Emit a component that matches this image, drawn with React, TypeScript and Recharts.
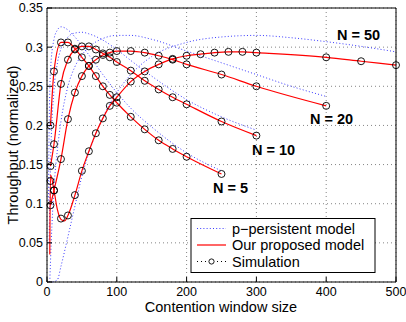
import React from 'react';
import { ComposedChart, Line, Scatter, XAxis, YAxis, CartesianGrid, Label } from 'recharts';

const FONT = '"Liberation Sans", Arial, Helvetica, sans-serif';

const xTicks = [0, 100, 200, 300, 400, 500];
const yTicks = [0, 0.05, 0.1, 0.15, 0.2, 0.25, 0.3, 0.35];

// Simulation points
const simX5 = [5, 10, 20, 30, 40, 50, 60, 70, 80, 90, 100, 120, 140, 160, 180, 200, 250];
const simY5 = [0.2, 0.269, 0.306, 0.306, 0.298, 0.287, 0.276, 0.263, 0.25, 0.239, 0.229, 0.211, 0.195, 0.181, 0.17, 0.16, 0.138];
const simX10 = [5, 10, 20, 30, 40, 50, 60, 70, 80, 90, 100, 120, 140, 160, 180, 200, 250, 300];
const simY10 = [0.148, 0.176, 0.253, 0.284, 0.297, 0.301, 0.301, 0.297, 0.292, 0.287, 0.281, 0.27, 0.257, 0.246, 0.236, 0.227, 0.205, 0.187];
const simX20 = [5, 10, 20, 30, 40, 50, 60, 70, 80, 90, 100, 120, 140, 160, 180, 200, 250, 300, 400];
const simY20 = [0.098, 0.117, 0.157, 0.208, 0.242, 0.263, 0.276, 0.284, 0.29, 0.293, 0.295, 0.295, 0.293, 0.289, 0.284, 0.278, 0.265, 0.25, 0.225];
const simX50 = [5, 10, 20, 30, 40, 50, 60, 70, 80, 90, 100, 120, 140, 160, 180, 200, 220, 240, 260, 280, 300, 400, 450, 500];
const simY50 = [0.129, 0.117, 0.081, 0.085, 0.111, 0.142, 0.167, 0.19, 0.209, 0.225, 0.236, 0.256, 0.269, 0.278, 0.285, 0.289, 0.291, 0.293, 0.294, 0.294, 0.293, 0.287, 0.282, 0.277];

// Proposed model (red)
const modX5 = [5, 10, 20, 30, 40, 50, 60, 70, 80, 90, 100, 120, 140, 160, 180, 200, 250];
const modY5 = [0.2, 0.269, 0.306, 0.306, 0.298, 0.287, 0.276, 0.263, 0.25, 0.239, 0.229, 0.211, 0.195, 0.181, 0.17, 0.16, 0.138];
const modX10 = [5, 10, 20, 30, 40, 50, 60, 70, 80, 90, 100, 120, 140, 160, 180, 200, 250, 300];
const modY10 = [0.148, 0.176, 0.253, 0.284, 0.297, 0.301, 0.301, 0.297, 0.292, 0.287, 0.281, 0.27, 0.257, 0.246, 0.236, 0.227, 0.205, 0.187];
const modX20 = [5, 10, 20, 30, 40, 50, 60, 70, 80, 90, 100, 120, 140, 160, 180, 200, 250, 300, 400];
const modY20 = [0.098, 0.117, 0.157, 0.208, 0.242, 0.263, 0.276, 0.284, 0.29, 0.293, 0.295, 0.295, 0.293, 0.289, 0.284, 0.278, 0.265, 0.25, 0.225];
const modX50 = [4, 5, 10, 15, 20, 25, 30, 40, 50, 60, 70, 80, 90, 100, 120, 140, 160, 180, 200, 220, 240, 260, 280, 300, 400, 450, 500];
const modY50 = [0.035, 0.137, 0.117, 0.092, 0.08, 0.078, 0.085, 0.111, 0.142, 0.167, 0.19, 0.209, 0.225, 0.236, 0.256, 0.269, 0.278, 0.285, 0.289, 0.291, 0.293, 0.294, 0.294, 0.293, 0.287, 0.282, 0.277];

// p-persistent model (blue dotted)
const ppX5 = [2, 3, 5, 10, 15, 20, 30, 40, 50, 60, 80, 100, 120, 150, 200, 250];
const ppY5 = [0.1, 0.19, 0.27, 0.31, 0.322, 0.326, 0.322, 0.313, 0.302, 0.29, 0.265, 0.242, 0.222, 0.198, 0.165, 0.142];
const ppX10 = [3, 5, 10, 15, 20, 30, 40, 50, 60, 80, 100, 120, 150, 200, 250, 300];
const ppY10 = [0.05, 0.15, 0.245, 0.28, 0.298, 0.313, 0.318, 0.319, 0.317, 0.309, 0.297, 0.283, 0.263, 0.233, 0.211, 0.194];
const ppX20 = [4, 6, 10, 15, 20, 30, 40, 50, 60, 80, 100, 120, 150, 200, 250, 300, 350, 400];
const ppY20 = [0.0, 0.05, 0.12, 0.17, 0.205, 0.25, 0.275, 0.29, 0.3, 0.311, 0.315, 0.315, 0.31, 0.295, 0.28, 0.265, 0.25, 0.237];
const ppX50 = [8, 15, 20, 30, 40, 50, 60, 80, 100, 120, 150, 200, 250, 300, 350, 400, 450, 500];
const ppY50 = [0.0, 0.003, 0.02, 0.058, 0.097, 0.135, 0.165, 0.21, 0.242, 0.265, 0.288, 0.306, 0.313, 0.315, 0.312, 0.307, 0.301, 0.294];

const toPts = (xs: number[], ys: number[]) => xs.map((x, i) => ({ x, y: ys[i] }));

const simSeries = [toPts(simX5, simY5), toPts(simX10, simY10), toPts(simX20, simY20), toPts(simX50, simY50)];
const modSeries = [toPts(modX5, modY5), toPts(modX10, modY10), toPts(modX20, modY20), toPts(modX50, modY50)];
const ppSeries = [toPts(ppX5, ppY5), toPts(ppX10, ppY10), toPts(ppX20, ppY20), toPts(ppX50, ppY50)];

const seriesNames = ['N = 5', 'N = 10', 'N = 20', 'N = 50'];

const Circle = (props: any) => (
  <circle cx={props.cx} cy={props.cy} r={3.5} fill="none" stroke="#000" strokeWidth={0.9} />
);

const tickStyle = { fill: '#000', fontSize: 12.5, fontFamily: FONT };

export default function App() {
  return (
    <div style={{ position: 'absolute', left: 0, top: 0, width: 406, height: 322, background: '#fff' }}>
      <ComposedChart width={406} height={322} margin={{ top: 0, right: 0, bottom: 0, left: 0 }}>
        <CartesianGrid stroke="#666" strokeDasharray="1 3" strokeWidth={0.8} />
        <XAxis
          dataKey="x"
          type="number"
          domain={[0, 500]}
          ticks={xTicks}
          height={40}
          tickSize={-5}
          tickMargin={10}
          tick={tickStyle}
          stroke="#000"
          interval={0}
        >
          <Label
            content={() => (
              <text x={221} y={312} textAnchor="middle" fontFamily={FONT} fontSize={14.5} fill="#000">
                Contention window size
              </text>
            )}
          />
        </XAxis>
        <XAxis
          xAxisId="top"
          orientation="top"
          type="number"
          domain={[0, 500]}
          ticks={xTicks}
          height={8}
          tickSize={-5}
          tickFormatter={() => ''}
          stroke="#000"
          interval={0}
        />
        <YAxis
          dataKey="y"
          type="number"
          domain={[0, 0.35]}
          ticks={yTicks}
          width={47}
          tickSize={-5}
          tickMargin={9}
          tick={tickStyle}
          tickFormatter={(v: number) => String(v)}
          stroke="#000"
          interval={0}
        >
          <Label
            content={() => (
              <text
                x={18}
                y={145}
                transform="rotate(-90 18 145)"
                textAnchor="middle"
                fontFamily={FONT}
                fontSize={14.5}
                fill="#000"
              >
                Throughput (normalized)
              </text>
            )}
          />
        </YAxis>
        <YAxis
          yAxisId="right"
          orientation="right"
          type="number"
          domain={[0, 0.35]}
          ticks={yTicks}
          width={10}
          tickSize={-5}
          tickFormatter={() => ''}
          stroke="#000"
          interval={0}
        />
        {ppSeries.map((d, i) => (
          <Line
            key={'pp' + i}
            name={'p-persistent ' + seriesNames[i]}
            data={d}
            dataKey="y"
            type="monotone"
            stroke="#3a3aff"
            strokeWidth={1}
            strokeDasharray="1 2.2"
            dot={false}
            activeDot={false}
            isAnimationActive={false}
          />
        ))}
        {modSeries.map((d, i) => (
          <Line
            key={'m' + i}
            name={'model ' + seriesNames[i]}
            data={d}
            dataKey="y"
            type="monotone"
            stroke="#ff0000"
            strokeWidth={1.2}
            dot={false}
            activeDot={false}
            isAnimationActive={false}
          />
        ))}
        {simSeries.map((d, i) => (
          <Scatter
            key={'s' + i}
            name={'sim ' + seriesNames[i]}
            data={d}
            dataKey="y"
            shape={Circle}
            isAnimationActive={false}
          />
        ))}
      </ComposedChart>
      <svg
        width={406}
        height={322}
        style={{ position: 'absolute', left: 0, top: 0, pointerEvents: 'none' }}
        fontFamily={FONT}
      >
        <g fontWeight="bold" fontSize={14.5} fill="#000">
          <text x={337} y={40}>N = 50</text>
          <text x={310} y={124}>N = 20</text>
          <text x={252} y={155}>N = 10</text>
          <text x={213} y={192.5}>N = 5</text>
        </g>
        <rect x={191} y={218.5} width={184} height={54} fill="#fff" stroke="#000" strokeWidth={1} />
        <line x1={197} y1={228.5} x2={226} y2={228.5} stroke="#3a3aff" strokeWidth={1} strokeDasharray="1 2.2" />
        <line x1={197} y1={245} x2={226} y2={245} stroke="#ff0000" strokeWidth={1.2} />
        <line x1={197} y1={261.5} x2={226} y2={261.5} stroke="#000" strokeWidth={1} strokeDasharray="1 3" />
        <circle cx={211.5} cy={261.5} r={2.6} fill="#fff" stroke="#000" strokeWidth={0.9} />
        <g fontSize={14.5} fill="#000">
          <text x={232} y={233.5}>p−persistent model</text>
          <text x={232} y={250}>Our proposed model</text>
          <text x={232} y={266.5}>Simulation</text>
        </g>
      </svg>
    </div>
  );
}
